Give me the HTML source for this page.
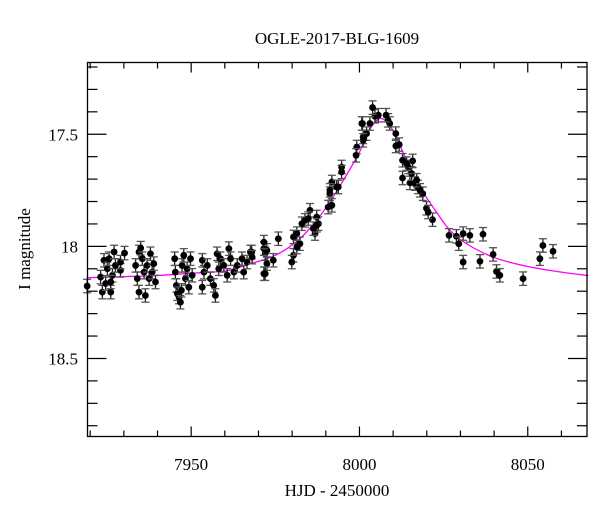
<!DOCTYPE html>
<html><head><meta charset="utf-8"><title>OGLE-2017-BLG-1609</title>
<style>html,body{margin:0;padding:0;background:#fff;}svg{display:block;font-family:"Liberation Serif",serif;}</style>
</head><body>
<svg id="chart" width="600" height="512" viewBox="0 0 600 512" xmlns="http://www.w3.org/2000/svg">
<text x="337" y="44" text-anchor="middle" font-size="17">OGLE-2017-BLG-1609</text>
<text x="337" y="496" text-anchor="middle" font-size="17">HJD - 2450000</text>
<text x="0" y="0" transform="translate(30,249) rotate(-90)" text-anchor="middle" font-size="17">I magnitude</text>
<g id="ticks"></g>
<g id="model"></g>
<g id="points"></g>
<rect x="87.5" y="62.5" width="499.5" height="374" fill="none" stroke="#000" stroke-width="1.3"/>
</svg>
<script>
const xTickLabels = ["7950","8000","8050"];
const xTickValues = [7950,8000,8050];
const yTickLabels = ["17.5","18","18.5"];
const yTickValues = [17.5,18,18.5];
const modelT = [7919,7930,7940,7950,7960,7967,7975,7982,7988,7993,7997,8000,8003,8006,8009,8012,8015,8019,8023,8027,8032,8040,8050,8060,8068];
const modelMag = [18.14,18.135,18.13,18.12,18.11,18.08,18.04,17.97,17.87,17.76,17.66,17.58,17.48,17.43,17.46,17.55,17.65,17.76,17.85,17.93,17.99,18.05,18.09,18.115,18.13];
const obsT = [8026.6,8028.8,8029.5,8030.8,8030.8,8032.8,8036.7,8035.8,8039.7,8040.7,8041.7,8048.6,8053.6,8054.5,8057.5,8021.7,8019.9,8020.4,
8018.8,8017.4,8016.5,8015.0,8012.8,8015.5,8014.5,8012.8,8015.8,8014.0,8011.8,8010.8,8010.8,8009.0,8008.5,8007.9,8005.6,8004.6,8003.9,8003.1,8002.1,8000.9,8001.1,8017.0,8018.0,
8000.7,8001.1,7999.2,7999.0,7994.7,7994.7,7993.7,7991.8,7991.2,7990.7,7991.8,7987.8,7986.8,7985.3,7983.8,7982.9,7981.4,7982.3,7980.4,7979.9,7975.9,7974.4,7972.0,7972.5,7968.0,7984.8,7986.3,7987.3,7980.4,7981.4,7991.2,7993.2,7987.3,7972.0,7972.5,
7919.1,7923.1,7923.6,7924.1,7924.6,7925.1,7925.6,7926.1,7926.6,7927.1,7927.5,7926.1,7929.0,7929.0,7930.2,
7933.5,7934.0,7934.5,7934.5,7935.0,7935.5,7936.0,7936.4,7936.9,7937.5,7937.9,7938.4,7938.9,7939.4,
7945.1,7945.3,7945.6,7945.9,7946.4,7946.8,7947.3,7947.8,7948.3,7948.8,7949.3,7949.8,7950.3,7947.1,
7953.3,7953.8,7953.3,7954.8,7955.7,7956.7,7957.2,7957.7,7958.2,7958.7,
7959.7,7960.7,7961.2,7961.7,7962.7,7963.7,7965.1,7965.6,7966.6,7967.6,7968.1,7971.6,7971.6,7971.6];
const obsMag = [17.951,17.955,17.988,18.070,17.943,17.951,17.946,18.067,18.036,18.112,18.129,18.144,18.055,17.996,18.022,17.881,17.830,17.847,
17.765,17.735,17.720,17.717,17.695,17.675,17.646,17.616,17.619,17.631,17.546,17.552,17.497,17.452,17.438,17.415,17.415,17.420,17.381,17.452,17.497,17.452,17.512,17.705,17.750,
17.452,17.527,17.557,17.594,17.646,17.668,17.735,17.713,17.765,17.825,17.817,17.899,17.943,17.839,17.884,17.899,17.943,17.988,18.040,18.070,17.966,18.062,18.033,18.077,18.025,17.876,17.921,17.869,17.958,18.003,17.750,17.735,17.906,18.122,18.018,
18.177,18.137,18.204,18.062,18.166,18.100,18.055,18.204,18.129,18.025,18.085,18.159,18.107,18.070,18.030,
18.085,18.144,18.025,18.204,18.008,18.055,18.115,18.219,18.085,18.144,18.033,18.115,18.077,18.159,
18.055,18.115,18.174,18.211,18.226,18.249,18.085,18.040,18.144,18.100,18.182,18.055,18.129,18.196,
18.062,18.115,18.182,18.085,18.144,18.174,18.219,18.033,18.100,18.055,
18.085,18.129,18.010,18.055,18.115,18.085,18.055,18.115,18.070,18.025,18.048,18.010,18.122,17.981];
const magErr = 0.03;

const NS = "http://www.w3.org/2000/svg";
const L = 87.5, R = 587, T = 62.5, B = 436.5;
const tMin = 7919.2, tMax = 8067.6, mMin = 17.18, mMax = 18.848;
function xs(t){ return L + (t - tMin) / (tMax - tMin) * (R - L); }
function ys(m){ return T + (m - mMin) / (mMax - mMin) * (B - T); }
function mk(tag, attrs, parent){ const e = document.createElementNS(NS, tag); for (const k in attrs) e.setAttribute(k, attrs[k]); parent.appendChild(e); return e; }

const tg = document.getElementById('ticks');
for (let v = 7920; v <= 8067; v += 10) {
  const x = xs(v), major = (v % 50 === 0), len = major ? 10 : 6;
  const t1 = mk('line', {x1:x, x2:x, y1:B, y2:B-len, stroke:'#000', 'stroke-width':1.2}, tg);
  
  
  const t2 = mk('line', {x1:x, x2:x, y1:T, y2:T+len, stroke:'#000', 'stroke-width':1.2}, tg);
  
  
}
for (let i = 171; i <= 189; i++) {
  const m = i / 10;
  if (m < mMin || m > mMax) continue;
  const y = ys(m), major = (i % 5 === 0), len = major ? 19 : 10;
  const t1 = mk('line', {x1:L, x2:L+len, y1:y, y2:y, stroke:'#000', 'stroke-width':1.2}, tg);
  
  
  const t2 = mk('line', {x1:R, x2:R-len, y1:y, y2:y, stroke:'#000', 'stroke-width':1.2}, tg);
  
  
}
xTickValues.forEach((v, i) => {
  const t = mk('text', {x:xs(v), y:470, 'text-anchor':'middle', 'font-size':17}, tg);
  t.textContent = xTickLabels[i];
  
  
});
yTickValues.forEach((v, i) => {
  const t = mk('text', {x:78, y:ys(v)+6, 'text-anchor':'end', 'font-size':17}, tg);
  t.textContent = yTickLabels[i];
  
  
});

const mg = document.getElementById('model');
const pts = modelT.map((t, i) => [xs(t), ys(modelMag[i])]);
let d = 'M' + pts[0][0] + ',' + pts[0][1];
for (let i = 0; i < pts.length - 1; i++) {
  const p0 = pts[Math.max(0, i-1)], p1 = pts[i], p2 = pts[i+1], p3 = pts[Math.min(pts.length-1, i+2)];
  const c1 = [p1[0] + (p2[0]-p0[0])/6, p1[1] + (p2[1]-p0[1])/6];
  const c2 = [p2[0] - (p3[0]-p1[0])/6, p2[1] - (p3[1]-p1[1])/6];
  d += ' C' + c1[0] + ',' + c1[1] + ' ' + c2[0] + ',' + c2[1] + ' ' + p2[0] + ',' + p2[1];
}
const path = mk('path', {d:d, fill:'none', stroke:'#ff00ff', 'stroke-width':1.3}, mg);



const pg = document.getElementById('points');
obsT.forEach((t, i) => {
  const x = xs(t), y = ys(obsMag[i]);
  const y1 = ys(obsMag[i] - magErr), y2 = ys(obsMag[i] + magErr);
  const g = mk('g', {}, pg);
  
  
  mk('line', {x1:x, x2:x, y1:y1, y2:y2, stroke:'#222', 'stroke-width':1.3}, g);
  mk('line', {x1:x-4, x2:x+4, y1:y1, y2:y1, stroke:'#555', 'stroke-width':1.3}, g);
  mk('line', {x1:x-4, x2:x+4, y1:y2, y2:y2, stroke:'#555', 'stroke-width':1.3}, g);
  mk('circle', {cx:x, cy:y, r:3.4, fill:'#000'}, g);
});
</script>
</body></html>
